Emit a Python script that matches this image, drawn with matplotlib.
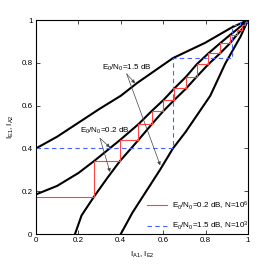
import matplotlib
matplotlib.use("Agg")
import matplotlib.pyplot as plt

plt.rcParams['font.family'] = ['Liberation Sans', 'DejaVu Sans']
plt.rcParams['mathtext.default'] = 'regular'
plt.rcParams['font.size'] = 5.8

# EXIT curve at 1.5 dB (the second decoder's curve is the mirror image)
outer_x = [0, 0.1, 0.2, 0.3, 0.4, 0.476, 0.646, 0.797, 0.923, 1.0]
outer_y = [0.4, 0.455, 0.52, 0.585, 0.646, 0.705, 0.822, 0.893, 0.965, 1.0]

# EXIT curves at 0.2 dB
inner_up_x = [0, 0.1, 0.2, 0.274, 0.396, 0.483, 0.546, 0.601, 0.652, 0.708,
              0.758, 0.813, 0.868, 0.915, 0.947, 0.97, 0.986, 1.0]
inner_up_y = [0.185, 0.225, 0.285, 0.341, 0.439, 0.513, 0.575, 0.626, 0.68, 0.735,
              0.793, 0.844, 0.891, 0.930, 0.955, 0.975, 0.99, 1.0]
inner_lo_x = [0.184, 0.215, 0.274, 0.335, 0.396, 0.483, 0.546, 0.601, 0.652, 0.708,
              0.758, 0.813, 0.868, 0.915, 0.947, 0.97, 0.986, 1.0]
inner_lo_y = [0, 0.087, 0.175, 0.26, 0.341, 0.439, 0.513, 0.575, 0.626, 0.68,
              0.735, 0.793, 0.844, 0.891, 0.930, 0.955, 0.975, 1.0]

# decoding trajectories (corner values)
red_x = [0.274, 0.396, 0.483, 0.546, 0.601, 0.652, 0.708, 0.758, 0.813,
         0.868, 0.915, 0.947, 0.970, 0.986, 1.0]
red_y = [0.175, 0.341, 0.439, 0.513, 0.575, 0.626, 0.68, 0.735, 0.793,
         0.844, 0.891, 0.930, 0.955, 0.975, 0.99, 1.0]
blue_x = [0.646, 0.923, 0.962, 0.99]
blue_y = [0.4, 0.822, 0.975, 0.99, 1.0]


def stairs(xs, ys):
    px, py = [0], [ys[0]]
    for i, x in enumerate(xs):
        px += [x, x]
        py += [ys[i], ys[i + 1]]
    return px, py


fig = plt.figure(figsize=(2.74, 2.64), dpi=100)
ax = fig.add_axes([0.1314, 0.1136, 0.7737, 0.8106])

ax.plot(outer_x, outer_y, color='black', lw=1.5)
ax.plot(outer_y, outer_x, color='black', lw=1.5)
ax.plot(inner_up_x, inner_up_y, color='black', lw=1.5)
ax.plot(inner_lo_x, inner_lo_y, color='black', lw=1.5)

rx, ry = stairs(red_x, red_y)
ax.plot(rx, ry, color='#ff4444', lw=0.8, label='E$_0$/N$_0$=0.2 dB, N=10$^6$')
bx, by = stairs(blue_x, blue_y)
ax.plot(bx, by, color='#4466ff', lw=0.8, ls=(0, (4, 3)),
        label='E$_0$/N$_0$=1.5 dB, N=10$^3$')

arrow = dict(arrowstyle='-|>', color='#444444', lw=0.5, mutation_scale=5,
             shrinkA=0, shrinkB=0)
ax.text(0.311, 0.776, 'E$_0$/N$_0$=1.5 dB', va='center', ha='left')
ax.annotate('', xy=(0.467, 0.704), xytext=(0.428, 0.748), arrowprops=arrow)
ax.annotate('', xy=(0.586, 0.321), xytext=(0.428, 0.748), arrowprops=arrow)
ax.text(0.208, 0.481, 'E$_0$/N$_0$=0.2 dB', va='center', ha='left')
ax.annotate('', xy=(0.349, 0.405), xytext=(0.302, 0.447), arrowprops=arrow)
ax.annotate('', xy=(0.349, 0.29), xytext=(0.302, 0.447), arrowprops=arrow)

ax.set_xlim(0, 1)
ax.set_ylim(0, 1)
ticks = [0, 0.2, 0.4, 0.6, 0.8, 1]
ax.set_xticks(ticks)
ax.set_yticks(ticks)
ax.set_xticklabels(['0', '0.2', '0.4', '0.6', '0.8', '1'])
ax.set_yticklabels(['0', '0.2', '0.4', '0.6', '0.8', '1'])
ax.tick_params(direction='in', length=3, width=0.5, top=True, right=True, pad=2.5)
for s in ax.spines.values():
    s.set_linewidth(0.8)
ax.set_xlabel('I$_{A1}$, I$_{E2}$', labelpad=4)
ax.set_ylabel('I$_{E1}$, I$_{A2}$', labelpad=4)

ax.legend(loc='lower right', bbox_to_anchor=(1.02, -0.01), frameon=False,
          handlelength=2.5, handletextpad=0.6, labelspacing=1.0,
          borderaxespad=0.3, borderpad=0.2)

fig.savefig('out.png', dpi=100)
